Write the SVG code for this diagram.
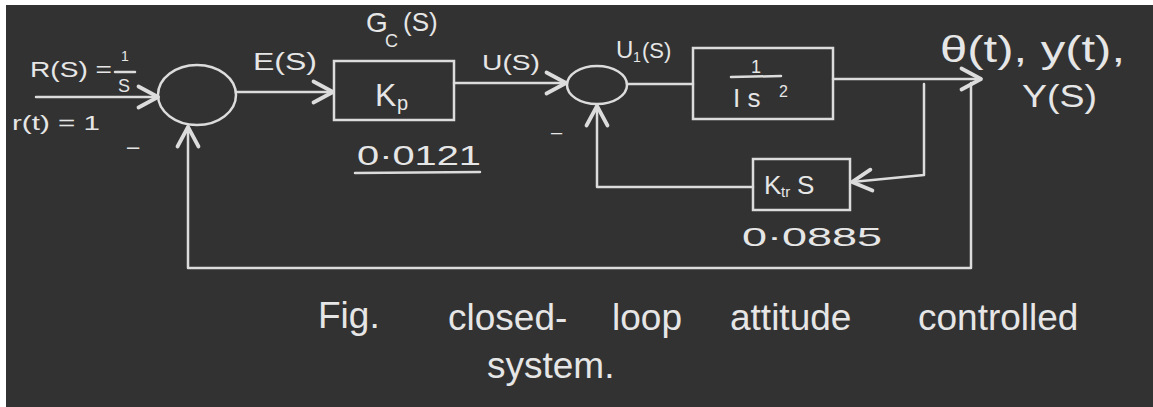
<svg xmlns="http://www.w3.org/2000/svg" width="1153" height="407" viewBox="0 0 1153 407">
<defs>
<style>
.bg{fill:#323232}
.ln{fill:none;stroke:#dcdcdc;stroke-width:2.5;stroke-linejoin:round;stroke-linecap:round}
.box{fill:none;stroke:#dcdcdc;stroke-width:2.5}
.t{fill:#e6e6e6;font-family:"Liberation Sans","DejaVu Sans",sans-serif}
.cap{font-size:37px}
</style>
<marker id="arr" markerUnits="userSpaceOnUse" markerWidth="30" markerHeight="30" refX="0" refY="0" viewBox="-16 -10 20 20" orient="auto" overflow="visible">
<path d="M-13,-7 L0,0 L-13,7" fill="none" stroke="#dcdcdc" stroke-width="2.5" stroke-linecap="round" stroke-linejoin="round"/>
</marker>
</defs>
<rect class="bg" x="0" y="0" width="1153" height="407"/>
<rect x="0" y="0" width="1153" height="5" fill="#ffffff"/>
<rect x="0" y="0" width="6" height="407" fill="#ffffff"/>

<g id="connectors">
<line class="ln" x1="36" y1="97" x2="158" y2="97" marker-end="url(#arr)"/>
<line class="ln" x1="236" y1="92" x2="333" y2="92" marker-end="url(#arr)"/>
<line class="ln" x1="454" y1="83" x2="566" y2="83" marker-end="url(#arr)"/>
<line class="ln" x1="627" y1="84" x2="693" y2="84"/>
<line class="ln" x1="833" y1="79" x2="981" y2="79" marker-end="url(#arr)"/>
<polyline class="ln" points="924,84 924,175 852,182" marker-end="url(#arr)"/>
<polyline class="ln" points="753,187 597,187 597,106" marker-end="url(#arr)"/>
<polyline class="ln" points="971,83 971,268 188,268 188,127" marker-end="url(#arr)"/>
</g>

<g id="input">
<text class="t" x="30" y="77" font-size="22" textLength="82" lengthAdjust="spacingAndGlyphs">R(S) =</text>
<text class="t" x="121" y="61" font-size="14">1</text>
<line class="ln" x1="115" y1="72" x2="135" y2="72" stroke-width="2"/>
<text class="t" x="118" y="92" font-size="18">S</text>
<text class="t" x="12" y="130" font-size="21" textLength="88" lengthAdjust="spacingAndGlyphs">r(t) = 1</text>
<text class="t" x="127" y="154" font-size="22">–</text>
</g>

<g id="sum1">
<ellipse class="box" cx="197" cy="95" rx="39" ry="30"/>
</g>

<g id="label-e">
<text class="t" x="253" y="70" font-size="23" textLength="64" lengthAdjust="spacingAndGlyphs">E(S)</text>
</g>

<g id="controller">
<text class="t" x="366" y="32" font-size="28">G</text>
<text class="t" x="385" y="47" font-size="18">C</text>
<text class="t" x="403" y="31" font-size="26">(S)</text>
<rect class="box" x="334" y="61" width="120" height="59"/>
<text class="t" x="375" y="106" font-size="32">K</text>
<text class="t" x="397" y="110" font-size="20">p</text>
<text class="t" x="357" y="165" font-size="28" textLength="124" lengthAdjust="spacingAndGlyphs">0·0121</text>
<line class="ln" x1="355" y1="173" x2="480" y2="172"/>
</g>

<g id="label-u">
<text class="t" x="482" y="70" font-size="22" textLength="58" lengthAdjust="spacingAndGlyphs">U(S)</text>
</g>

<g id="sum2">
<ellipse class="box" cx="597" cy="85" rx="30" ry="19"/>
<text class="t" x="551" y="139" font-size="20">–</text>
<text class="t" x="616" y="58" font-size="24">U</text>
<text class="t" x="633" y="62" font-size="14">1</text>
<text class="t" x="642" y="58" font-size="22">(S)</text>
</g>

<g id="plant">
<rect class="box" x="693" y="48" width="140" height="71"/>
<text class="t" x="751" y="73" font-size="18">1</text>
<line class="ln" x1="731" y1="77" x2="781" y2="76" stroke-width="2"/>
<text class="t" x="733" y="107" font-size="26">I s</text>
<text class="t" x="779" y="97" font-size="16">2</text>
</g>

<g id="rate-feedback">
<rect class="box" x="753" y="159" width="97" height="51"/>
<text class="t" x="764" y="194" font-size="26">K</text>
<text class="t" x="781" y="197" font-size="15">tr</text>
<text class="t" x="797" y="194" font-size="26">S</text>
<text class="t" x="742" y="246" font-size="26" textLength="140" lengthAdjust="spacingAndGlyphs">0·0885</text>
</g>

<g id="output">
<text class="t" x="940" y="62" font-size="36" textLength="185" lengthAdjust="spacingAndGlyphs">θ(t), y(t),</text>
<text class="t" x="1022" y="107" font-size="32" textLength="75" lengthAdjust="spacingAndGlyphs">Y(S)</text>
</g>

<g id="caption">
<text class="t cap" x="318" y="328">Fig.</text>
<text class="t cap" x="448" y="330">closed-</text>
<text class="t cap" x="612" y="330">loop</text>
<text class="t cap" x="730" y="330">attitude</text>
<text class="t cap" x="918" y="330">controlled</text>
<text class="t cap" x="487" y="378">system.</text>
</g>
</svg>
